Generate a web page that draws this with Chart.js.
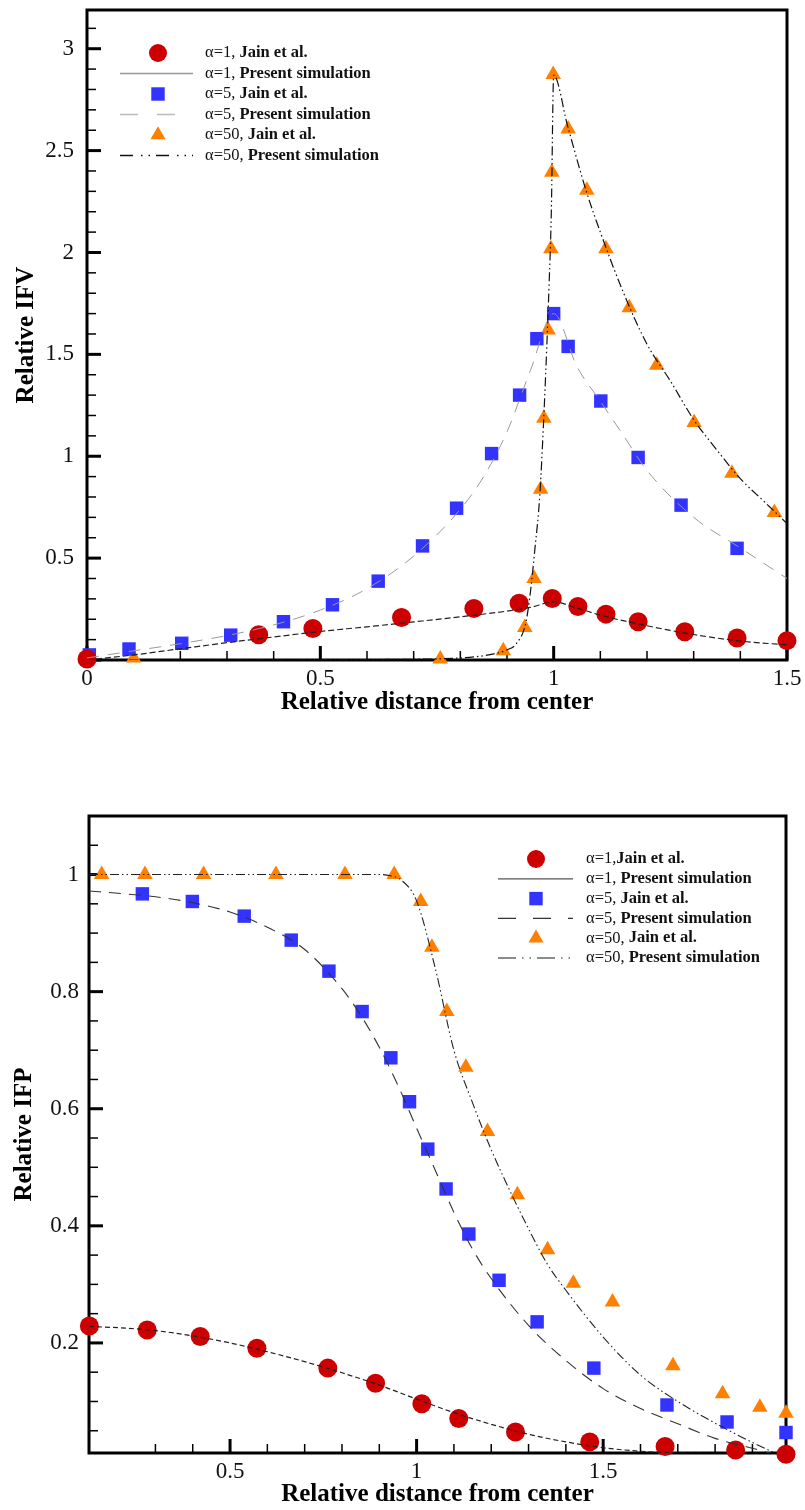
<!DOCTYPE html>
<html>
<head>
<meta charset="utf-8">
<title>Relative IFV and IFP</title>
<script src="https://cdn.jsdelivr.net/npm/chart.js@4.4.1/dist/chart.umd.min.js"></script>
<style>
  body { margin: 0; background: #fff; }
  canvas { display: block; }
</style>
</head>
<body>
<canvas id="ifv" width="805" height="745"></canvas>
<canvas id="ifp" width="805" height="765"></canvas>
<script>
// ---- IFV profiles (top panel) ----
const ifvJainX1 = [0, 0.368, 0.484, 0.674, 0.829, 0.926, 0.997, 1.052, 1.112, 1.181, 1.281, 1.393, 1.5];
const ifvJainY1 = [0.005, 0.124, 0.155, 0.209, 0.253, 0.279, 0.302, 0.263, 0.225, 0.188, 0.139, 0.108, 0.095];
const ifvJainX5 = [0.005, 0.09, 0.203, 0.308, 0.421, 0.526, 0.624, 0.719, 0.792, 0.867, 0.927, 0.964, 1.0, 1.031, 1.101, 1.181, 1.273, 1.393];
const ifvJainY5 = [0.025, 0.054, 0.082, 0.122, 0.188, 0.271, 0.387, 0.56, 0.745, 1.013, 1.30, 1.577, 1.70, 1.539, 1.271, 0.994, 0.76, 0.548];
const ifvJainX50 = [0.10, 0.757, 0.892, 0.938, 0.958, 0.972, 0.979, 0.988, 0.994, 0.996, 0.999, 1.031, 1.071, 1.112, 1.162, 1.221, 1.301, 1.382, 1.473];
const ifvJainY50 = [0.01, 0.005, 0.046, 0.16, 0.40, 0.838, 1.186, 1.62, 2.018, 2.394, 2.873, 2.606, 2.305, 2.018, 1.729, 1.446, 1.165, 0.917, 0.724];

const ifvSimX1 = [0, 0.1, 0.2, 0.3, 0.4, 0.5, 0.6, 0.7, 0.8, 0.9, 0.95, 1.0, 1.05, 1.1, 1.2, 1.3, 1.4, 1.5];
const ifvSimY1 = [0.0, 0.025, 0.055, 0.085, 0.113, 0.14, 0.163, 0.187, 0.212, 0.24, 0.258, 0.285, 0.255, 0.22, 0.168, 0.125, 0.093, 0.074];
const ifvSimX5 = [0, 0.1, 0.2, 0.3, 0.4, 0.5, 0.6, 0.7, 0.8, 0.85, 0.9, 0.95, 1.0, 1.05, 1.1, 1.15, 1.2, 1.3, 1.4, 1.5];
const ifvSimY5 = [0.01, 0.045, 0.08, 0.12, 0.172, 0.245, 0.35, 0.51, 0.74, 0.9, 1.12, 1.42, 1.70, 1.44, 1.27, 1.10, 0.93, 0.70, 0.55, 0.40];
const ifvSimX50 = [0, 0.2, 0.4, 0.6, 0.8, 0.86, 0.9, 0.92, 0.94, 0.95, 0.96, 0.97, 0.98, 0.99, 0.995, 1.0, 1.03, 1.07, 1.1, 1.15, 1.2, 1.25, 1.3, 1.35, 1.4, 1.45, 1.5];
const ifvSimY50 = [0, 0, 0, 0.002, 0.01, 0.025, 0.05, 0.08, 0.18, 0.33, 0.55, 0.8, 1.25, 1.83, 2.2, 2.87, 2.62, 2.3, 2.1, 1.8, 1.55, 1.37, 1.18, 1.03, 0.89, 0.78, 0.67];

// ---- IFP profiles (bottom panel) ----
const ifpJainX1 = [0.123, 0.278, 0.420, 0.572, 0.762, 0.89, 1.014, 1.113, 1.265, 1.464, 1.666, 1.855, 1.99];
const ifpJainY1 = [0.229, 0.222, 0.211, 0.191, 0.157, 0.131, 0.096, 0.071, 0.048, 0.031, 0.023, 0.017, 0.010];
const ifpJainX5 = [0.265, 0.399, 0.538, 0.664, 0.765, 0.854, 0.931, 0.981, 1.03, 1.079, 1.14, 1.221, 1.323, 1.475, 1.671, 1.832, 1.99];
const ifpJainY5 = [0.967, 0.954, 0.929, 0.888, 0.835, 0.766, 0.687, 0.612, 0.531, 0.463, 0.386, 0.307, 0.236, 0.157, 0.094, 0.065, 0.047];
const ifpJainX50 = [0.156, 0.272, 0.429, 0.623, 0.808, 0.94, 1.011, 1.041, 1.081, 1.132, 1.19, 1.27, 1.351, 1.42, 1.525, 1.687, 1.82, 1.92, 1.99];
const ifpJainY50 = [1.0, 1.0, 1.0, 1.0, 1.0, 1.0, 0.954, 0.876, 0.766, 0.671, 0.561, 0.453, 0.359, 0.302, 0.27, 0.161, 0.113, 0.09, 0.08];

const ifpSimX1 = [0.122, 0.2, 0.3, 0.4, 0.5, 0.6, 0.7, 0.8, 0.9, 1.0, 1.1, 1.2, 1.3, 1.4, 1.5, 1.6, 1.7, 1.8, 1.9, 1.99];
const ifpSimY1 = [0.228, 0.226, 0.221, 0.212, 0.2, 0.185, 0.168, 0.149, 0.128, 0.104, 0.081, 0.061, 0.044, 0.031, 0.021, 0.015, 0.012, 0.011, 0.01, 0.01];
const ifpSimX5 = [0.122, 0.2, 0.3, 0.4, 0.5, 0.6, 0.7, 0.8, 0.85, 0.9, 0.95, 1.0, 1.05, 1.1, 1.15, 1.2, 1.3, 1.4, 1.5, 1.6, 1.7, 1.8, 1.9, 1.97];
const ifpSimY5 = [0.972, 0.968, 0.962, 0.952, 0.936, 0.91, 0.872, 0.805, 0.76, 0.705, 0.64, 0.567, 0.495, 0.423, 0.36, 0.31, 0.23, 0.17, 0.122, 0.088, 0.062, 0.037, 0.02, 0.008];
const ifpSimX50 = [0.122, 0.3, 0.5, 0.7, 0.9, 0.93, 0.96, 1.0, 1.05, 1.1, 1.15, 1.2, 1.25, 1.3, 1.35, 1.4, 1.5, 1.6, 1.7, 1.8, 1.9, 1.96];
const ifpSimY50 = [1.0, 1.0, 1.0, 1.0, 1.0, 0.998, 0.99, 0.955, 0.84, 0.70, 0.61, 0.53, 0.46, 0.395, 0.335, 0.29, 0.21, 0.145, 0.1, 0.063, 0.03, 0.012];

// labelled tick values
const ifvXLabels = [0, 0.5, 1, 1.5];
const ifvYLabels = [0.5, 1, 1.5, 2, 2.5, 3];
const ifpXLabels = [0.5, 1, 1.5];
const ifpYLabels = [0.2, 0.4, 0.6, 0.8, 1];

// legend text: [plain part, bold part]
const ifvKeyText = [
  ['α=1, ', 'Jain et al.'], ['α=1, ', 'Present simulation'],
  ['α=5, ', 'Jain et al.'], ['α=5, ', 'Present simulation'],
  ['α=50, ', 'Jain et al.'], ['α=50, ', 'Present simulation']
];
const ifpKeyText = [
  ['α=1,', 'Jain et al.'], ['α=1, ', 'Present simulation'],
  ['α=5, ', 'Jain et al.'], ['α=5, ', 'Present simulation'],
  ['α=50, ', 'Jain et al.'], ['α=50, ', 'Present simulation']
];

const SERIF = '"Liberation Serif", "Times New Roman", serif';
const RED = '#cc0000', BLUE = '#3333ff', ORANGE = '#ff8000';

const near = (list, v) => list.some(m => Math.abs(m - v) < 1e-6);

function stepValues(from, to, step) {
  const out = [];
  for (let k = Math.round(from / step); k * step <= to + 1e-9; k++) {
    out.push(Math.round(k * step * 1000) / 1000);
  }
  return out;
}

function pts(xs, ys) {
  return xs.map((x, i) => ({ x: x, y: ys[i] }));
}

function marks(label, xs, ys, style, color, r) {
  return {
    label, data: pts(xs, ys), pointStyle: style, pointRadius: r, pointHoverRadius: r,
    backgroundColor: color, borderColor: color, borderWidth: 0, showLine: false,
    order: 2, clip: false
  };
}

function curve(label, xs, ys, color, dash, w) {
  return {
    label, data: pts(xs, ys), showLine: true, pointRadius: 0, pointHoverRadius: 0,
    borderColor: color, borderWidth: w, borderDash: dash,
    cubicInterpolationMode: 'monotone', order: 1, fill: false
  };
}

function axis(o) {
  const horizontal = o.pos === 'bottom';
  return {
    type: 'linear', position: o.pos, min: o.min, max: o.max,
    afterBuildTicks: s => { s.ticks = o.ticks.map(v => ({ value: v })); },
    afterFit: s => {
      // fixed box sizes, no extra room for edge labels
      if (horizontal) { s.height = o.size; s.paddingLeft = 0; s.paddingRight = 0; }
      else { s.width = o.size; s.paddingTop = 0; s.paddingBottom = 0; }
    },
    grid: { display: false, drawTicks: false },
    border: { display: false },
    ticks: {
      autoSkip: false, maxRotation: 0, padding: o.pad, color: '#111',
      font: { family: SERIF, size: 23 },
      callback: v => (near(o.labels, v) ? String(v) : '')
    },
    title: {
      display: true, text: o.title, color: '#000',
      font: { family: SERIF, size: 25, weight: 'bold' },
      padding: o.titlePad
    }
  };
}

// frame around the plot with inward tick marks
const framePlugin = {
  id: 'frame',
  beforeDatasetsDraw(chart, args, opts) {
    const { ctx, chartArea: a, scales } = chart;
    ctx.save();
    ctx.strokeStyle = '#000';
    ctx.lineCap = 'butt';
    ['x', 'y'].forEach(id => {
      const s = scales[id];
      const majors = opts[id + 'Major'];
      s.ticks.forEach(t => {
        const major = near(majors, t.value);
        const len = major ? 14 : 9;
        ctx.lineWidth = major ? 3 : 1.5;
        const p = s.getPixelForValue(t.value);
        ctx.beginPath();
        if (id === 'x') { ctx.moveTo(p, a.bottom); ctx.lineTo(p, a.bottom - len); }
        else { ctx.moveTo(a.left, p); ctx.lineTo(a.left + len, p); }
        ctx.stroke();
      });
    });
    ctx.lineWidth = 3;
    ctx.strokeRect(a.left, a.top, a.right - a.left, a.bottom - a.top);
    ctx.restore();
  }
};

// two-weight legend drawn inside the plot
const keyPlugin = {
  id: 'key',
  afterDraw(chart, args, opts) {
    const ctx = chart.ctx;
    ctx.save();
    opts.rows.forEach((r, i) => {
      const y = opts.y + i * opts.step;
      if (r.point) {
        ctx.fillStyle = r.color;
        Chart.helpers.drawPoint(ctx, { pointStyle: r.point, radius: r.radius, borderWidth: 0, rotation: 0 }, opts.markX, y);
      } else {
        ctx.strokeStyle = r.color;
        ctx.lineWidth = 1.3;
        ctx.setLineDash(r.dash);
        ctx.beginPath();
        ctx.moveTo(opts.lineX0, y);
        ctx.lineTo(opts.lineX1, y);
        ctx.stroke();
        ctx.setLineDash([]);
      }
      const [plain, bold] = opts.text[i];
      ctx.fillStyle = '#111';
      ctx.textBaseline = 'middle';
      ctx.textAlign = 'left';
      ctx.font = '16.5px ' + SERIF;
      ctx.fillText(plain, opts.textX, y);
      const w = ctx.measureText(plain).width;
      ctx.font = 'bold 16.5px ' + SERIF;
      ctx.fillText(bold, opts.textX + w, y);
    });
    ctx.restore();
  }
};

Chart.register(framePlugin, keyPlugin);

const common = {
  responsive: false,
  animation: false,
  events: [],
  plugins: { legend: { display: false }, tooltip: { enabled: false } }
};

new Chart(document.getElementById('ifv'), {
  type: 'scatter',
  data: {
    datasets: [
      curve('α=1, Present simulation', ifvSimX1, ifvSimY1, '#222', [6, 3], 1.2),
      curve('α=5, Present simulation', ifvSimX5, ifvSimY5, '#999', [12, 9], 1),
      curve('α=50, Present simulation', ifvSimX50, ifvSimY50, '#111', [9, 3, 1.5, 3, 1.5, 3], 1.2),
      marks('α=1, Jain et al.', ifvJainX1, ifvJainY1, 'circle', RED, 9.5),
      marks('α=5, Jain et al.', ifvJainX5, ifvJainY5, 'rect', BLUE, 9.5),
      marks('α=50, Jain et al.', ifvJainX50, ifvJainY50, 'triangle', ORANGE, 9)
    ]
  },
  options: {
    ...common,
    layout: { padding: { left: 0, right: 18, top: 10, bottom: 0 } },
    scales: {
      x: axis({ pos: 'bottom', min: 0, max: 1.5, ticks: stepValues(0, 1.5, 0.1), labels: ifvXLabels,
                size: 85, pad: 5, title: 'Relative distance from center', titlePad: { top: 0, bottom: 27 } }),
      y: axis({ pos: 'left', min: 0, max: 3.19, ticks: stepValues(0, 3.1, 0.1), labels: ifvYLabels,
                size: 87, pad: 13, title: 'Relative IFV', titlePad: { top: 12, bottom: 12 } })
    },
    plugins: {
      ...common.plugins,
      frame: { xMajor: ifvXLabels, yMajor: [0].concat(ifvYLabels) },
      key: {
        y: 53, step: 20.5, markX: 158, lineX0: 120, lineX1: 193, textX: 205, text: ifvKeyText,
        rows: [
          { point: 'circle', color: RED, radius: 9 },
          { color: '#999', dash: [] },
          { point: 'rect', color: BLUE, radius: 9.5 },
          { color: '#bbb', dash: [18, 19] },
          { point: 'triangle', color: ORANGE, radius: 8.7 },
          { color: '#111', dash: [13, 8, 1.5, 6, 1.5, 6] }
        ]
      }
    }
  }
});

new Chart(document.getElementById('ifp'), {
  type: 'scatter',
  data: {
    datasets: [
      curve('α=1, Present simulation', ifpSimX1, ifpSimY1, '#222', [5, 3], 1.2),
      curve('α=5, Present simulation', ifpSimX5, ifpSimY5, '#333', [12, 8], 1.1),
      curve('α=50, Present simulation', ifpSimX50, ifpSimY50, '#222', [9, 3, 1.5, 3, 1.5, 3], 1.1),
      marks('α=1,Jain et al.', ifpJainX1, ifpJainY1, 'circle', RED, 9.5),
      marks('α=5, Jain et al.', ifpJainX5, ifpJainY5, 'rect', BLUE, 9.5),
      marks('α=50, Jain et al.', ifpJainX50, ifpJainY50, 'triangle', ORANGE, 9)
    ]
  },
  options: {
    ...common,
    layout: { padding: { left: 0, right: 19, top: 71, bottom: 0 } },
    scales: {
      x: axis({ pos: 'bottom', min: 0.122, max: 1.99, ticks: stepValues(0.3, 1.9, 0.1), labels: ifpXLabels,
                size: 57, pad: 5, title: 'Relative distance from center', titlePad: { top: 0, bottom: 0 } }),
      y: axis({ pos: 'left', min: 0.012, max: 1.1, ticks: stepValues(0.05, 1.05, 0.05), labels: ifpYLabels,
                size: 89, pad: 10, title: 'Relative IFP', titlePad: { top: 10, bottom: 10 } })
    },
    plugins: {
      ...common.plugins,
      frame: { xMajor: ifpXLabels, yMajor: ifpYLabels },
      key: {
        y: 114, step: 19.8, markX: 536, lineX0: 498, lineX1: 573, textX: 586, text: ifpKeyText,
        rows: [
          { point: 'circle', color: RED, radius: 9 },
          { color: '#555', dash: [] },
          { point: 'rect', color: BLUE, radius: 9.5 },
          { color: '#333', dash: [18, 17] },
          { point: 'triangle', color: ORANGE, radius: 8.7 },
          { color: '#666', dash: [18, 6, 1.5, 6, 1.5, 6] }
        ]
      }
    }
  }
});
</script>
</body>
</html>
